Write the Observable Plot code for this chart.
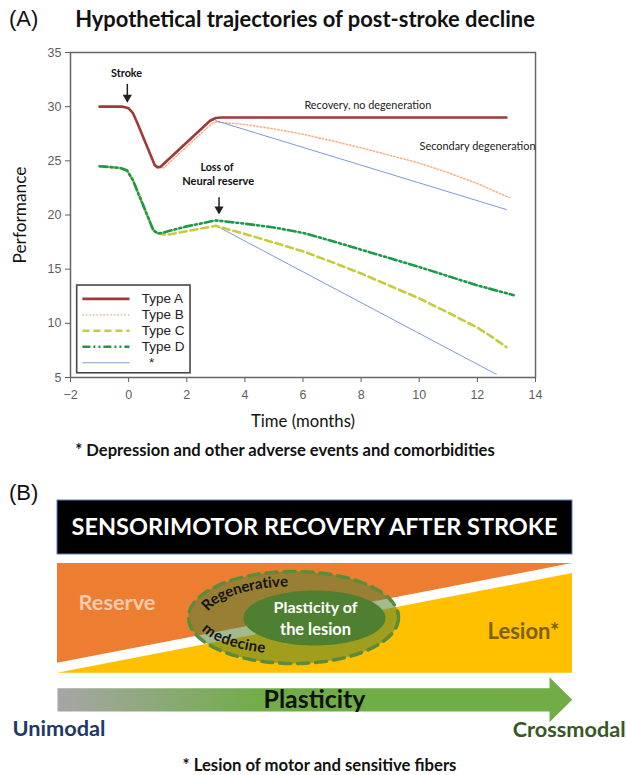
<!DOCTYPE html>
<html><head><meta charset="utf-8">
<script src="https://cdn.jsdelivr.net/npm/d3@7"></script>
<script src="https://cdn.jsdelivr.net/npm/@observablehq/plot@0.6"></script>
<style>
body{margin:0;background:#fff;}
#page{position:relative;width:626px;height:775px;overflow:hidden;}
#page svg{position:absolute;left:0;}
.lbl{position:absolute;white-space:nowrap;line-height:1;}
</style></head>
<body><div id="page"></div>
<script>
// ===================== DATA: panel A =====================
const xTicks = [-2, 0, 2, 4, 6, 8, 10, 12, 14];
const yTicks = [5, 10, 15, 20, 25, 30, 35];
// [month, performance]
const typeA = [[-1,30],[-0.2,30],[0,29.85],[0.15,29.4],[0.3,28.5],[0.9,24.6],[1,24.4],[1.1,24.45],[2.8,28.7],[3,28.95],[3.2,29],[13,29]];
const typeB = [[-1,30],[-0.2,30],[0,29.85],[0.15,29.4],[0.3,28.5],[0.9,24.55],[1,24.35],[1.2,24.35],[2.85,28.4],[3,28.6],[4,28.35],[5,27.95],[6,27.45],[7,26.85],[8,26.2],[9,25.5],[10,24.8],[11,23.9],[12,22.9],[13.1,21.6]];
const typeC = [[-1,24.5],[-0.3,24.35],[-0.05,24.1],[0.15,23.2],[0.85,18.6],[1,18.3],[1.2,18.2],[1.4,18.2],[2,18.5],[3,19.0],[4,18.25],[5,17.45],[6,16.65],[7,15.65],[8,14.6],[9,13.45],[10,12.3],[11,10.98],[12,9.6],[12.5,8.75],[13,7.8]];
const typeD = [[-1,24.5],[-0.3,24.35],[-0.05,24.1],[0.15,23.2],[0.85,18.6],[1,18.3],[1.15,18.35],[1.5,18.6],[2,18.95],[3,19.5],[4,19.2],[5,18.85],[6,18.35],[7,17.6],[8,16.8],[9,16.0],[10,15.2],[11,14.35],[12,13.5],[13.25,12.6]];
const adverseHigh = [[3,28.7],[13,20.5]];
const adverseLow = [[3.05,18.95],[12.65,5.3]];
const seriesNames = ["Type A", "Type B", "Type C", "Type D", "*"];
const boldNotes = [
  {text: "Stroke", x: -0.07, y: 33.03},
  {text: "Loss of", x: 3.04, y: 24.41},
  {text: "Neural reserve", x: 3.08, y: 23.09}
];
const centerNotes = [{text: "Recovery, no degeneration", x: 8.23, y: 30.11}];
const startNotes = [{text: "Secondary degeneration", x: 10.01, y: 26.32}];
const arrowsA = [
  {x: -0.045, y1: 32.11, y2: 30.57},
  {x: 3.11, y1: 21.64, y2: 20.26}
];

// ===================== DATA: panel B (diagram units) =====================
const bannerText = "SENSORIMOTOR RECOVERY AFTER STROKE";
const banner = [{x1: 0, x2: 515, y1: 0, y2: 54}];
const reserveBand = [{x: 0, top: 63, bottom: 162.7}, {x: 515, top: 63, bottom: 63}];
const lesionBand = [{x: 0, top: 172.7, bottom: 172.7}, {x: 515, top: 73, bottom: 172.7}];
const outerEllipse = {cx: 236, cy: 117, rx: 105, ry: 46};
const innerEllipse = {cx: 257, cy: 117.5, rx: 71, ry: 27.5};
const arrowShape = [[0,187.7],[492,187.7],[492,176.7],[514.7,199.3],[492,221.7],[492,211],[0,211]];
const labelsB = [
  {text: "Reserve", x: 59.5, y: 103, color: "#F8CBAD", size: 22},
  {text: "Lesion*", x: 466, y: 131.7, color: "#7F6000", size: 22},
  {text: "Plasticity of", x: 258, y: 107.7, color: "#ffffff", size: 15.5},
  {text: "the lesion", x: 258, y: 129.3, color: "#ffffff", size: 15.5},
  {text: "Plasticity", x: 257, y: 200, color: "#111111", size: 22},
  {text: "Unimodal", x: 1.5, y: 228.3, color: "#203864", size: 22},
  {text: "Crossmodal", x: 511.7, y: 230, color: "#385723", size: 22},
  {text: "* Lesion of motor and sensitive fibers", x: 262, y: 265, color: "#111111", size: 15}
];
const arcWords = [
  {text: "Regenerative", a: 92, b: 36, mid: 123, lower: false},
  {text: "medecine", a: 92, b: 32, mid: 229, lower: true}
];

// ===================== styles =====================
const calibri = "Lato, 'Open Sans', sans-serif";
const arial = "'Liberation Sans', Arial, sans-serif";
const lineStyle = {
  "Type A": {stroke: "#9e3a3a", strokeWidth: 2.6},
  "Type B": {stroke: "#f6b489", strokeWidth: 1.6, strokeDasharray: "1.3,2.2"},
  "Type C": {stroke: "#c6cc3c", strokeWidth: 2.6, strokeDasharray: "7,4"},
  "Type D": {stroke: "#1b9a4c", strokeWidth: 2.6, strokeDasharray: "8,3,2,3,2,3"},
  "*": {stroke: "#7b9ad8", strokeWidth: 1}
};
const toRows = arr => arr.map(([x, y]) => ({x, y}));

const page = document.getElementById("page");

// ===================== Panel A =====================
const seriesData = [
  ["Type B", [typeB]], ["*", [adverseHigh, adverseLow]], ["Type C", [typeC]], ["Type D", [typeD]], ["Type A", [typeA]]
];
const lineMarks = [];
for (const [name, arrs] of seriesData) {
  for (const arr of arrs) {
    lineMarks.push(Plot.line(toRows(arr), {x: "x", y: "y", curve: "linear", ...lineStyle[name]}));
  }
}
// legend (inside plot, in data units)
const legendBox = {x1: -1.77, x2: 2.13, y1: 5.39, y2: 13.49};
const legendRows = seriesNames.map((name, i) => ({name, y: 12.26 - i * 1.475}));
const legendMarks = [
  Plot.rect([legendBox], {x1: "x1", x2: "x2", y1: "y1", y2: "y2", fill: "white", stroke: "#474747", strokeWidth: 1.6})
];
for (const r of legendRows) {
  legendMarks.push(Plot.link([r], {x1: -1.59, x2: 0.03, y1: "y", y2: "y", ...lineStyle[r.name]}));
}
legendMarks.push(Plot.text(legendRows, {x: d => d.name === "*" ? 0.7 : 0.45, y: "y", text: "name", textAnchor: "start", fontSize: 13.5, fill: "#222", fontFamily: arial}));

const plotA = Plot.plot({
  width: 626, height: 470,
  marginLeft: 70, marginRight: 91, marginTop: 52, marginBottom: 93,
  style: {fontFamily: arial, background: "transparent", overflow: "visible"},
  x: {domain: [-2, 14]},
  y: {domain: [5, 35]},
  marks: [
    Plot.axisX({ticks: xTicks, tickSize: 5, tickPadding: 8, fontSize: 12.5, color: "#5e5e5e", label: null}),
    Plot.axisY({ticks: yTicks, tickSize: 5, tickPadding: 4, fontSize: 12.5, color: "#5e5e5e", label: null}),
    ...lineMarks,
    Plot.frame({stroke: "#666", strokeWidth: 1.5}),
    ...legendMarks,
    Plot.link(arrowsA, {x1: "x", x2: "x", y1: "y1", y2: "y2", stroke: "#222", strokeWidth: 1.5}),
    Plot.dot(arrowsA, {x: "x", y: "y2", symbol: "triangle", rotate: 180, r: 3.4, dy: -3, fill: "#222"}),
    Plot.text(boldNotes, {x: "x", y: "y", text: "text", textAnchor: "middle", fontSize: 11, fontWeight: "bold", fontFamily: calibri, fill: "#111"}),
    Plot.text(centerNotes, {x: "x", y: "y", text: "text", textAnchor: "middle", fontSize: 11.5, fontFamily: calibri, fill: "#222"}),
    Plot.text(startNotes, {x: "x", y: "y", text: "text", textAnchor: "start", fontSize: 11.5, fontFamily: calibri, fill: "#222"}),
    Plot.text(["Time (months)"], {text: d => d, frameAnchor: "bottom", lineAnchor: "middle", textAnchor: "middle", dy: 44, fontSize: 15, fontFamily: calibri, fill: "#111"}),
    Plot.text(["Performance"], {text: d => d, frameAnchor: "left", lineAnchor: "middle", textAnchor: "middle", dx: -50, rotate: -90, fontSize: 15, fontFamily: calibri, fill: "#111"})
  ]
});
plotA.style.top = "0px";
page.appendChild(plotA);

// ===================== Panel B =====================
function ellipsePts(e) {
  return d3.range(0, 360, 2).map(t => ({x: e.cx + e.rx * Math.cos(t * Math.PI / 180), y: e.cy + e.ry * Math.sin(t * Math.PI / 180)}));
}
const ctx = document.createElement("canvas").getContext("2d");
function arcLetters(w, e, fontPx) {
  ctx.font = `bold ${fontPx}px Lato`;
  const chars = [...w.text];
  const widths = chars.map(c => ctx.measureText(c).width * 1.02);
  const total = d3.sum(widths);
  const dir = w.lower ? 1 : -1;
  const tm = w.mid * Math.PI / 180;
  const P = u => { const t = tm + dir * u; return [e.cx + w.a * Math.cos(t), e.cy - w.b * Math.sin(t)]; };
  const us = d3.range(-1.6, 1.6001, 0.002);
  const s = [0];
  for (let i = 1; i < us.length; i++) {
    const [x0, y0] = P(us[i - 1]), [x1, y1] = P(us[i]);
    s.push(s[i - 1] + Math.hypot(x1 - x0, y1 - y0));
  }
  const i0 = us.findIndex(u => u >= 0);
  const s0 = s[i0];
  const out = [];
  let cum = -total / 2;
  chars.forEach((c, k) => {
    const target = s0 + cum + widths[k] / 2;
    cum += widths[k];
    const j = Math.max(1, d3.bisectLeft(s, target));
    const f = (target - s[j - 1]) / (s[j] - s[j - 1]);
    const u = us[j - 1] + f * (us[j] - us[j - 1]);
    const t = tm + dir * u;
    const [x, y] = P(u);
    const dx = -w.a * Math.sin(t) * dir, dy = -w.b * Math.cos(t) * dir;
    out.push({ch: c, x, y, rot: Math.atan2(dy, dx) * 180 / Math.PI});
  });
  return out;
}
const letters = arcWords.flatMap(w => arcLetters(w, outerEllipse, 15));

const plotB = Plot.plot({
  width: 626, height: 305,
  style: {background: "transparent", overflow: "visible"},
  x: {domain: [0, 515], range: [57, 572], axis: null},
  y: {domain: [0, 275], range: [30, 305], axis: null},
  marks: [
    Plot.rect(banner, {x1: "x1", x2: "x2", y1: "y1", y2: "y2", fill: "black", stroke: "#5a7fc4", strokeWidth: 1}),
    Plot.text([bannerText], {text: d => d, x: 257, y: 27, fill: "white", fontSize: 25, fontWeight: "bold", fontFamily: calibri}),
    Plot.areaY(reserveBand, {x: "x", y1: "top", y2: "bottom", fill: "#ED7D31"}),
    Plot.areaY(lesionBand, {x: "x", y1: "top", y2: "bottom", fill: "#FFC000"}),
    Plot.line(ellipsePts(outerEllipse), {x: "x", y: "y", curve: "linear-closed", fill: "#548235", fillOpacity: 0.55, stroke: "none"}),
    Plot.line(ellipsePts(innerEllipse), {x: "x", y: "y", curve: "linear-closed", fill: "#4f7f31", stroke: "none"}),
    Plot.line(ellipsePts(outerEllipse), {x: "x", y: "y", curve: "linear-closed", stroke: "#5b8c3b", strokeWidth: 3.5, strokeDasharray: "11,7"}),
    Plot.text(letters, {x: "x", y: "y", text: "ch", rotate: "rot", fontSize: 15, fontWeight: "bold", fontFamily: calibri, fill: "#141414"}),
    Plot.line(toRows(arrowShape), {x: "x", y: "y", curve: "linear-closed", fill: "url(#plastGrad)", stroke: "none"}),
    Plot.text(labelsB, {x: "x", y: "y", text: "text", fill: "color", fontSize: "size", fontWeight: "bold", fontFamily: calibri})
  ]
});
// gradient definition for the plasticity arrow
const NS = "http://www.w3.org/2000/svg";
const defs = document.createElementNS(NS, "defs");
const grad = document.createElementNS(NS, "linearGradient");
grad.setAttribute("id", "plastGrad");
[["0", "#a6a6a6"], ["0.4", "#70AD47"], ["1", "#70AD47"]].forEach(([o, c]) => {
  const st = document.createElementNS(NS, "stop");
  st.setAttribute("offset", o); st.setAttribute("stop-color", c);
  grad.appendChild(st);
});
defs.appendChild(grad);
plotB.insertBefore(defs, plotB.firstChild);
plotB.style.top = "470px";
page.appendChild(plotB);

// ===================== HTML titles =====================
function addLabel(text, x, y, style, anchor) {
  const d = document.createElement("div");
  d.className = "lbl";
  d.textContent = text;
  Object.assign(d.style, {left: x + "px", top: y + "px"}, style);
  d.style.transform = anchor === "start" ? "translate(0,-50%)" : "translate(-50%,-50%)";
  page.appendChild(d);
}
addLabel("(A)", 9, 19, {fontFamily: arial, fontSize: "22px", color: "#111"}, "start");
addLabel("Hypothetical trajectories of post-stroke decline", 305, 19, {fontFamily: calibri, fontWeight: "bold", fontSize: "20px", color: "#111"});
addLabel("* Depression and other adverse events and comorbidities", 285, 450, {fontFamily: calibri, fontWeight: "bold", fontSize: "16px", color: "#111"});
addLabel("(B)", 9, 493, {fontFamily: arial, fontSize: "22px", color: "#111"}, "start");

// ===================== width fitting =====================
const fitWidths = new Map([
  ["Hypothetical trajectories of post-stroke decline", 460],
  ["* Depression and other adverse events and comorbidities", 420],
  [bannerText, 486],
  ["* Lesion of motor and sensitive fibers", 274],
  ["Unimodal", 93], ["Crossmodal", 113], ["Plasticity", 102], ["Reserve", 77], ["Lesion*", 72],
  ["Plasticity of", 84], ["the lesion", 71],
  ["Time (months)", 104], ["Performance", 97],
  ["Recovery, no degeneration", 127], ["Secondary degeneration", 116],
  ["Neural reserve", 72], ["Stroke", 31], ["Loss of", 33]
]);
for (const el of page.querySelectorAll("text, .lbl")) {
  const t = el.textContent;
  if (!fitWidths.has(t)) continue;
  const target = fitWidths.get(t);
  const fs = parseFloat(getComputedStyle(el).fontSize);
  const w = el.tagName.toLowerCase() === "text" ? el.getComputedTextLength() : el.getBoundingClientRect().width;
  if (w > 0) el.style.fontSize = (fs * target / w) + "px";
}
</script></body></html>
